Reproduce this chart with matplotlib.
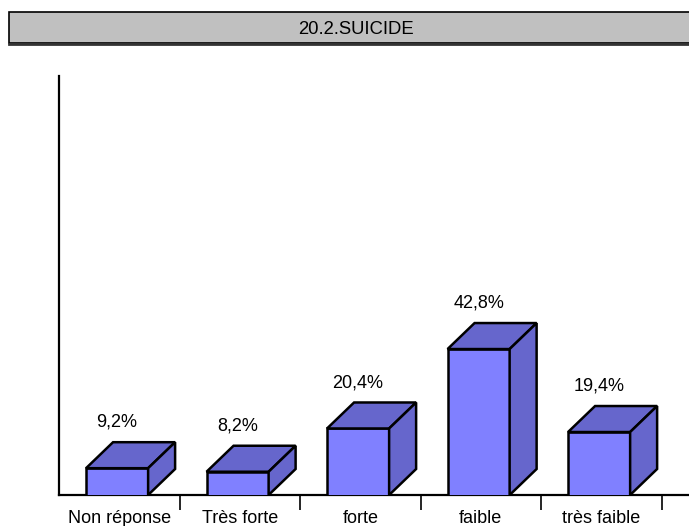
import matplotlib.pyplot as plt
from matplotlib.patches import Polygon, Rectangle
from matplotlib.lines import Line2D

plt.rcParams.update({
    "font.family": ["Liberation Sans", "DejaVu Sans"],
    "font.size": 13,
})

title = "20.2.SUICIDE"
categories = ["Non réponse", "Très forte", "forte", "faible", "très faible"]
values = [9.2, 8.2, 20.4, 42.8, 19.4]
labels = ["9,2%", "8,2%", "20,4%", "42,8%", "19,4%"]

front_color = "#8080FF"
shade_color = "#6666CC"

# geometrie du faux 3D (en unites de donnees)
floor = 1.64       # niveau du sol vu en perspective
bar_w = 0.515
shift = -0.018
dx = 0.224
dy = 7.33

fig = plt.figure(figsize=(6.89, 5.26), dpi=100)
ax = fig.add_axes([59 / 689, 31 / 526, 630 / 689, 419 / 526])

# bandeau du titre
fig.patches.append(Rectangle((9 / 689, (526 - 43) / 526), 700 / 689, 31 / 526,
                             transform=fig.transFigure, facecolor="#C0C0C0",
                             edgecolor="black", linewidth=1.2, zorder=0))
fig.lines.append(Line2D([9 / 689, 1.0], [(526 - 43.5) / 526] * 2,
                        transform=fig.transFigure, color="#333333", linewidth=2))
fig.text(356 / 689, (526 - 30) / 526, title, ha="center", va="center", fontsize=13.3)

for i, (v, lab) in enumerate(zip(values, labels)):
    xc = i + shift
    xl = xc - bar_w / 2
    xr = xc + bar_w / 2
    ax.bar(xc, v, width=bar_w, bottom=0, color=front_color,
           edgecolor="black", linewidth=1.8, zorder=3)
    top = [(xl, v), (xl + dx, v + dy), (xr + dx, v + dy), (xr, v)]
    side = [(xr, floor), (xr + dx, floor + dy), (xr + dx, v + dy), (xr, v)]
    ax.add_patch(Polygon(top, closed=True, facecolor=shade_color,
                         edgecolor="black", linewidth=1.8, zorder=3))
    ax.add_patch(Polygon(side, closed=True, facecolor=shade_color,
                         edgecolor="black", linewidth=1.8, zorder=3))
    ax.annotate(lab, (xc, v), xytext=(0, 33), textcoords="offset points",
                ha="center", va="center", fontsize=13)

ax.set_xlim(-0.5, 4.728)
ax.set_ylim(floor, 119.8)

ax.spines["top"].set_visible(False)
ax.spines["right"].set_visible(False)
ax.spines["left"].set_linewidth(1.6)
ax.spines["bottom"].set_linewidth(1.6)

ax.set_yticks([])
ax.set_xticks([i + 0.5 for i in range(len(categories))])
ax.set_xticklabels([])
ax.tick_params(axis="x", which="major", direction="out", length=11, width=1.2)
ax.set_xticks(range(len(categories)), minor=True)
ax.set_xticklabels(categories, minor=True)
ax.tick_params(axis="x", which="minor", length=0, pad=10.5, labelsize=13)

fig.savefig("out.png", dpi=100)
